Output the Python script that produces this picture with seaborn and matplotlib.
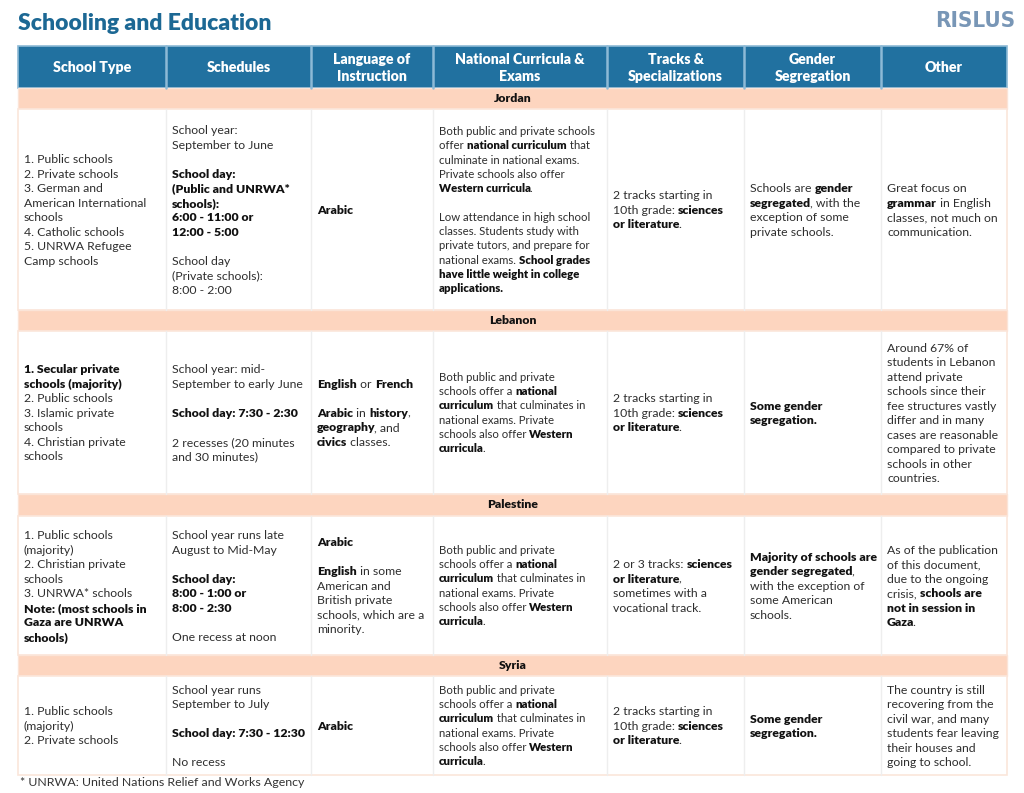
import matplotlib.pyplot as plt
import seaborn as sns
from matplotlib import font_manager as fm
from matplotlib.backends.backend_agg import get_hinting_flag
from matplotlib.patches import Rectangle

# ---- table content -------------------------------------------------------
headers = ["School Type", "Schedules", "Language of\nInstruction",
           "National Curricula &\nExams", "Tracks &\nSpecializations",
           "Gender\nSegregation", "Other"]

countries = ["Jordan", "Lebanon", "Palestine", "Syria"]

school_type = [
    "1. Public schools\n2. Private schools\n3. German and\nAmerican International\n"
    "schools\n4. Catholic schools\n5. UNRWA Refugee\nCamp schools",
    "**1. Secular private\nschools (majority)**\n2. Public schools\n3. Islamic private\n"
    "schools\n4. Christian private\nschools",
    "1. Public schools\n(majority)\n2. Christian private\nschools\n3. UNRWA* schools\n"
    "**Note: (most schools in\nGaza are UNRWA\nschools)**",
    "1. Public schools\n(majority)\n2. Private schools",
]

schedules = [
    "School year:\nSeptember to June\n\n**School day:\n(Public and UNRWA*\nschools):\n"
    "6:00 - 11:00 or\n12:00 - 5:00**\n\nSchool day\n(Private schools):\n8:00 - 2:00",
    "School year: mid-\nSeptember to early June\n\n**School day: 7:30 - 2:30**\n\n"
    "2 recesses (20 minutes\nand 30 minutes)",
    "School year runs late\nAugust to Mid-May\n\n**School day:\n8:00 - 1:00 or\n8:00 - 2:30**\n\n"
    "One recess at noon",
    "School year runs\nSeptember to July\n\n**School day: 7:30 - 12:30**\n\nNo recess",
]

language = [
    "**Arabic**",
    "**English** or **French**\n\n**Arabic** in **history**,\n**geography**, and\n**civics** classes.",
    "**Arabic**\n\n**English** in some\nAmerican and\nBritish private\nschools, which are a\nminority.",
    "**Arabic**",
]

curricula_common = ("Both public and private\nschools offer a **national\ncurriculum** that culminates in\n"
                    "national exams. Private\nschools also offer **Western\ncurricula**.")
curricula = [
    "Both public and private schools\noffer **national curriculum** that\nculminate in national exams.\n"
    "Private schools also offer\n**Western curricula**.\n\nLow attendance in high school\n"
    "classes. Students study with\nprivate tutors, and prepare for\nnational exams. **School grades\n"
    "have little weight in college\napplications.**",
    curricula_common,
    curricula_common,
    curricula_common,
]

tracks_common = "2 tracks starting in\n10th grade: **sciences\nor literature**."
tracks = [
    tracks_common,
    tracks_common,
    "2 or 3 tracks: **sciences\nor literature**,\nsometimes with a\nvocational track.",
    tracks_common,
]

gender = [
    "Schools are **gender\nsegregated**, with the\nexception of some\nprivate schools.",
    "**Some gender\nsegregation.**",
    "**Majority of schools are\ngender segregated**,\nwith the exception of\nsome American\nschools.",
    "**Some gender\nsegregation.**",
]

other = [
    "Great focus on\n**grammar** in English\nclasses, not much on\ncommunication.",
    "Around 67% of\nstudents in Lebanon\nattend private\nschools since their\nfee structures vastly\n"
    "differ and in many\ncases are reasonable\ncompared to private\nschools in other\ncountries.",
    "As of the publication\nof this document,\ndue to the ongoing\ncrisis, **schools are\n"
    "not in session in\nGaza**.",
    "The country is still\nrecovering from the\ncivil war, and many\nstudents fear leaving\n"
    "their houses and\ngoing to school.",
]

columns = [school_type, schedules, language, curricula, tracks, gender, other]
footnote = "* UNRWA: United Nations Relief and Works Agency"

# ---- layout (pixels) -----------------------------------------------------
col_edges = [18, 166, 311, 433, 607, 744, 881, 1007]
header_rows = (46, 88)
band_rows = [(88, 109), (310, 331), (494, 516), (655, 676)]
body_rows = [(109, 310), (331, 494), (516, 655), (676, 775)]

HEAD_BLUE = "#2171a0"
PEACH = "#fdd5bf"
TITLE_BLUE = "#1c6894"
FAMILY = "Lato"
DPI = 100

sns.set_theme(style="white")
plt.rcParams["font.family"] = [FAMILY, "DejaVu Sans"]

fig = plt.figure(figsize=(10.24, 7.93), dpi=DPI)
ax = fig.add_axes([0, 0, 1, 1])
ax.set_xlim(0, 1024)
ax.set_ylim(793, 0)
ax.axis("off")
renderer = fig.canvas.get_renderer()


def ink_width(s, weight, size):
    prop = fm.FontProperties(family=FAMILY, weight=weight, size=size)
    return renderer.get_text_width_height_descent(s, prop, ismath=False)[0]


def advance(s, weight, size):
    # pen advance of s: the sentinel bars cancel their own side bearings
    return ink_width("|" + s + "|", weight, size) - ink_width("||", weight, size)


def pen_shift(s, weight, size, x):
    """Agg rounds x + ink offset to whole pixels; return where the pen really lands."""
    font = fm.get_font(fm.findfont(fm.FontProperties(family=FAMILY, weight=weight)))
    font.set_size(size, DPI)
    font.set_text(s, 0, flags=get_hinting_flag())
    xo = font.get_bitmap_offset()[0] / 64.0
    return round(x + xo) - xo


def parse(s):
    lines, bold = [], False
    for raw in s.split("\n"):
        segs = []
        parts = raw.split("**")
        for i, p in enumerate(parts):
            if i > 0:
                bold = not bold
            if p:
                segs.append((p, bold))
        lines.append(segs)
    return lines


def draw_cell(x, yc, s, size=8.8, lh=14.5, color="#2e2e2e"):
    lines = parse(s)
    n = len(lines)
    cap = size * DPI / 72 * 0.72
    y = yc - (n - 1) * lh / 2 + cap / 2
    for segs in lines:
        cx = x
        for txt, b in segs:
            w = "heavy" if b else "normal"
            if cx > x and txt[0] in ".,":
                cx -= 1.2  # tuck punctuation against the bold word
            ax.text(cx, y, txt, fontsize=size, fontweight=w, va="baseline",
                    ha="left", color="#111111" if b else color)
            cx = pen_shift(txt, w, size, cx) + advance(txt, w, size)
        y += lh


# title + logo
ax.text(18, 24, "Schooling and Education", fontsize=16.5, fontweight="heavy",
        color=TITLE_BLUE, va="center", ha="left")
ax.text(975, 21, "RISLUS", fontsize=16, fontweight="bold", color="#7896b6",
        va="center", ha="center", family="DejaVu Sans", fontstretch="condensed")

# header
x0, x1 = col_edges[0], col_edges[-1]
ax.add_patch(Rectangle((x0, header_rows[0]), x1 - x0, header_rows[1] - header_rows[0],
                       facecolor=HEAD_BLUE, edgecolor="#8dbad6", lw=1.2))
for xe in col_edges[1:-1]:
    ax.plot([xe, xe], header_rows, color="#8dbad6", lw=1.8)
for i, h in enumerate(headers):
    xc = (col_edges[i] + col_edges[i + 1]) / 2
    ax.text(xc, sum(header_rows) / 2 + 1, h, fontsize=10.2, fontweight="heavy",
            color="white", ha="center", va="center", linespacing=1.35)

# country bands and body rows
for r, country in enumerate(countries):
    b0, b1 = band_rows[r]
    ax.add_patch(Rectangle((x0, b0), x1 - x0, b1 - b0, facecolor=PEACH,
                           edgecolor="#fbe4d7", lw=1))
    ax.text((x0 + x1) / 2, (b0 + b1) / 2, country, fontsize=8.8, fontweight="heavy",
            color="#111111", ha="center", va="center")
    r0, r1 = body_rows[r]
    ax.add_patch(Rectangle((x0, r0), x1 - x0, r1 - r0, facecolor="white",
                           edgecolor="#fbe6da", lw=1.2))
    for xe in col_edges[1:-1]:
        ax.plot([xe, xe], [r0, r1], color="#eeeeee", lw=1)
    for c, col in enumerate(columns):
        size = 8.2 if c == 3 else 8.8
        lh = 14.3 if c == 3 else 14.5
        draw_cell(col_edges[c] + 6, (r0 + r1) / 2, col[r], size=size, lh=lh)

ax.text(20, 783, footnote, fontsize=8.9, color="#333333", va="center", ha="left")

fig.savefig("out.png", dpi=DPI)
